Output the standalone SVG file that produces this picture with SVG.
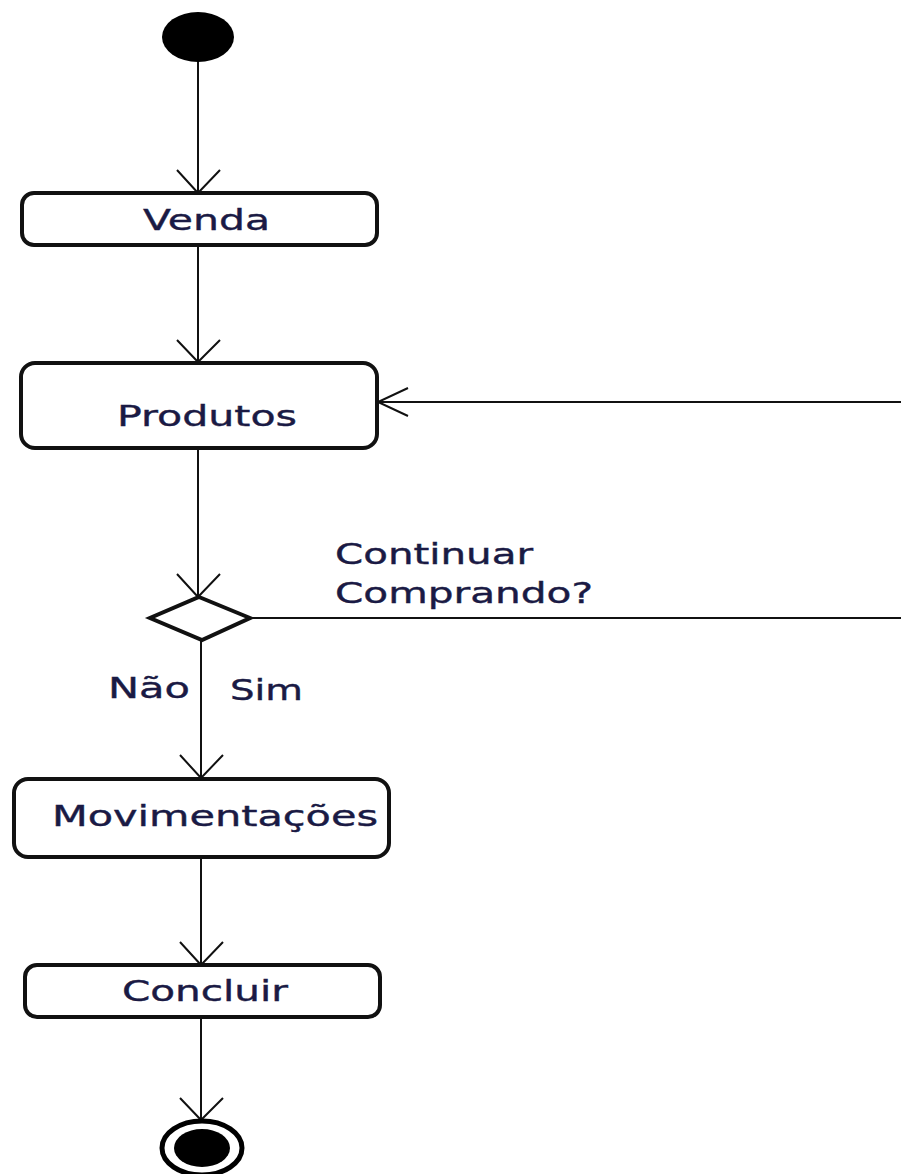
<svg xmlns="http://www.w3.org/2000/svg" width="901" height="1174" viewBox="0 0 901 1174">
  <style>
    .box { fill: #ffffff; stroke: #111111; stroke-width: 4; }
    .edge { fill: none; stroke: #111111; stroke-width: 2; }
    .head { fill: none; stroke: #111111; stroke-width: 2; }
    .lbl { font-family: "DejaVu Sans", "Liberation Sans", sans-serif; font-size: 29px; fill: #1a1a44; stroke: #1a1a44; stroke-width: 0.4; }
  </style>
  <rect width="901" height="1174" fill="#ffffff"/>

  <!-- connectors -->
  <g id="connectors">
    <line class="edge" x1="198" y1="55" x2="198" y2="193"/>
    <polyline class="head" points="177,170 198,193 220,170"/>

    <line class="edge" x1="198" y1="245" x2="198" y2="362"/>
    <polyline class="head" points="177,340 198,362 220,340"/>

    <line class="edge" x1="198" y1="448" x2="198" y2="597"/>
    <polyline class="head" points="177,574 198,597 220,574"/>

    <!-- loop back from decision to Produtos -->
    <polyline class="edge" points="250,618 901,618"/>
    <line class="edge" x1="901" y1="402" x2="378" y2="402"/>
    <polyline class="head" points="408,388 378,402 408,416"/>

    <line class="edge" x1="201" y1="640" x2="201" y2="778"/>
    <polyline class="head" points="180,755 201,778 223,755"/>

    <line class="edge" x1="201" y1="857" x2="201" y2="965"/>
    <polyline class="head" points="180,942 201,965 223,942"/>

    <line class="edge" x1="201" y1="1017" x2="201" y2="1120"/>
    <polyline class="head" points="180,1098 201,1120 223,1098"/>

    <text class="lbl" x="335" y="564" textLength="198" lengthAdjust="spacingAndGlyphs">Continuar</text>
    <text class="lbl" x="335" y="603" textLength="258" lengthAdjust="spacingAndGlyphs">Comprando?</text>
    <text class="lbl" x="108" y="698" textLength="82" lengthAdjust="spacingAndGlyphs">Não</text>
    <text class="lbl" x="230" y="700" textLength="73" lengthAdjust="spacingAndGlyphs">Sim</text>
  </g>

  <g id="start">
    <ellipse cx="198" cy="37" rx="36" ry="25" fill="#000000"/>
  </g>

  <g id="venda">
    <rect class="box" x="22" y="193" width="355" height="52" rx="12"/>
    <text class="lbl" x="143" y="230" textLength="127" lengthAdjust="spacingAndGlyphs">Venda</text>
  </g>

  <g id="produtos">
    <rect class="box" x="21" y="363" width="356" height="85" rx="14"/>
    <text class="lbl" x="117" y="426" textLength="180" lengthAdjust="spacingAndGlyphs">Produtos</text>
  </g>

  <g id="decisao">
    <polygon class="box" points="199,597 250,618 202,640 150,618"/>
  </g>

  <g id="movimentacoes">
    <rect class="box" x="14" y="779" width="375" height="78" rx="14"/>
    <text class="lbl" x="52" y="826" textLength="326" lengthAdjust="spacingAndGlyphs">Movimentações</text>
  </g>

  <g id="concluir">
    <rect class="box" x="25" y="965" width="355" height="52" rx="12"/>
    <text class="lbl" x="122" y="1001" textLength="166" lengthAdjust="spacingAndGlyphs">Concluir</text>
  </g>

  <g id="fim">
    <ellipse cx="202" cy="1148" rx="40" ry="27" fill="#ffffff" stroke="#000000" stroke-width="5"/>
    <ellipse cx="202" cy="1148" rx="28" ry="19" fill="#000000"/>
  </g>
</svg>
